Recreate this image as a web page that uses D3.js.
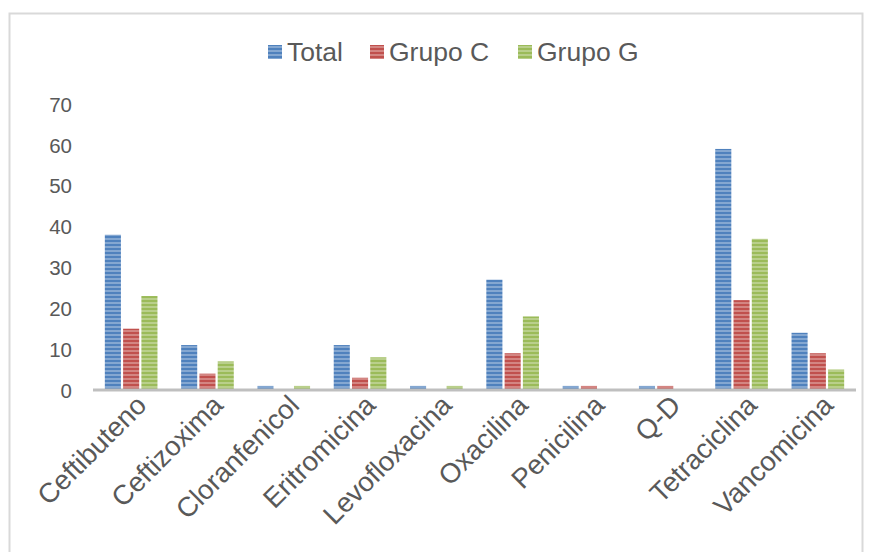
<!DOCTYPE html>
<html>
<head>
<meta charset="utf-8">
<script src="https://cdn.jsdelivr.net/npm/d3@7"></script>
<style>
  html, body { margin: 0; padding: 0; background: #fff; }
  svg { display: block; font-family: "Liberation Sans", Arial, sans-serif; }
</style>
</head>
<body>
<svg id="chart" width="873" height="552"></svg>
<script>
// Antibiotic resistance counts per group
const categories = ["Ceftibuteno", "Ceftizoxima", "Cloranfenicol", "Eritromicina", "Levofloxacina",
                    "Oxacilina", "Penicilina", "Q-D", "Tetraciclina", "Vancomicina"];
const seriesNames = ["Total", "Grupo C", "Grupo G"];
const totalValues  = [38, 11, 1, 11, 1, 27, 1, 1, 59, 14];
const grupoCValues = [15, 4, 0, 3, 0, 9, 1, 1, 22, 9];
const grupoGValues = [23, 7, 1, 8, 1, 18, 0, 0, 37, 5];
const yTicks = [0, 10, 20, 30, 40, 50, 60, 70];
const seriesColors = ["#4f81bd", "#c0504d", "#9bbb59"];

const seriesValues = [totalValues, grupoCValues, grupoGValues];
const rows = categories.map((c, i) => ({
  cat: c,
  vals: seriesNames.map((s, k) => ({ key: s, k, v: seriesValues[k][i] }))
}));

const svg = d3.select("#chart");
const textColor = "#595959";

// Outer chart frame
svg.append("rect")
  .attr("x", 9.5).attr("y", 13.5)
  .attr("width", 853).attr("height", 600)
  .attr("fill", "none").attr("stroke", "#d9d9d9").attr("stroke-width", 2);

// Striped fills for the bars
const defs = svg.append("defs");
seriesColors.forEach((col, k) => {
  const light = d3.interpolateRgb(col, "#ffffff")(0.3);
  const p = defs.append("pattern")
    .attr("id", "stripe" + k)
    .attr("patternUnits", "userSpaceOnUse")
    .attr("width", 8).attr("height", 4);
  p.append("rect").attr("width", 8).attr("height", 4).attr("fill", col);
  p.append("rect").attr("y", 2).attr("width", 8).attr("height", 2).attr("fill", light);
});

const margin = { left: 93, right: 17, top: 104, bottom: 162 };
const W = 873, H = 552;

const x0 = d3.scaleBand().domain(categories)
  .range([margin.left, W - margin.right]).paddingInner(0.31).paddingOuter(0.155);
const x1 = d3.scaleBand().domain(seriesNames)
  .range([0, x0.bandwidth()]).paddingInner(0.12);
const y = d3.scaleLinear().domain([0, 70]).range([390, 104]);

// Y axis labels (no axis line)
const yAxis = d3.axisLeft(y).tickValues(yTicks).tickSize(0).tickPadding(0);
const gy = svg.append("g").attr("transform", "translate(72,0)").call(yAxis);
gy.select(".domain").remove();
gy.selectAll("text")
  .attr("fill", textColor)
  .style("font-size", "20.5px")
  .style("font-family", "Liberation Sans, Arial, sans-serif")
  .attr("dy", "0.35em");

// Bars
const groups = svg.append("g").selectAll("g")
  .data(rows).join("g")
  .attr("transform", d => `translate(${x0(d.cat)},0)`);
groups.selectAll("rect")
  .data(d => d.vals).join("rect")
  .attr("x", d => x1(d.key))
  .attr("width", x1.bandwidth())
  .attr("y", d => y(d.v))
  .attr("height", d => y(0) - y(d.v))
  .attr("fill", d => `url(#stripe${d.k})`);

// X axis baseline and rotated category labels
const xAxis = d3.axisBottom(x0).tickSize(0).tickPadding(0);
const gx = svg.append("g").attr("transform", `translate(0,${y(0)})`).call(xAxis);
gx.select(".domain")
  .attr("d", `M${margin.left},0H${W - margin.right}`)
  .attr("stroke", "#bfbfbf").attr("stroke-width", 3);
gx.selectAll(".tick text")
  .attr("fill", textColor)
  .style("font-size", "27.5px")
  .style("font-family", "Liberation Sans, Arial, sans-serif")
  .attr("text-anchor", "end")
  .attr("dy", null)
  .attr("transform", "translate(17,17) rotate(-45)");

// Legend
const legendItems = [
  { name: "Total", k: 0, x: 268 },
  { name: "Grupo C", k: 1, x: 370 },
  { name: "Grupo G", k: 2, x: 518 }
];
const lg = svg.append("g");
legendItems.forEach(it => {
  lg.append("rect").attr("x", it.x).attr("y", 45).attr("width", 14).attr("height", 14)
    .attr("fill", `url(#stripe${it.k})`);
  lg.append("text").attr("x", it.x + 19).attr("y", 61)
    .attr("fill", textColor).style("font-size", "26.5px").text(it.name);
});
</script>
</body>
</html>
